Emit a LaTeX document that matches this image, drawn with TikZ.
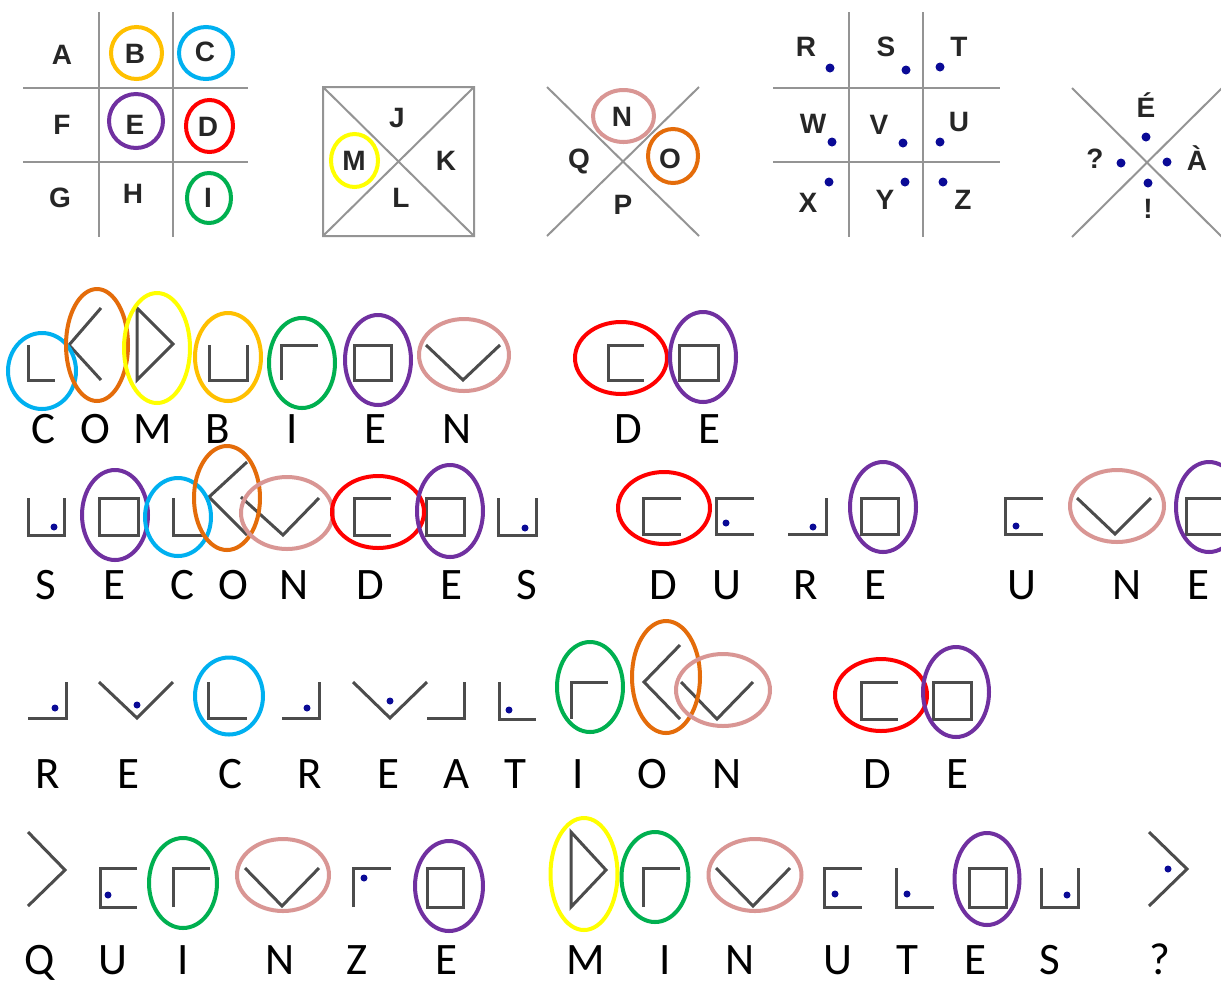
\documentclass[tikz,border=0pt]{standalone}
\usepackage{fontspec}
\setmainfont{Carlito}
\newfontfamily\keyfont{Liberation Sans}
\definecolor{cyanring}{RGB}{0,176,240}
\definecolor{orangering}{RGB}{228,108,10}
\definecolor{yellowring}{RGB}{255,255,0}
\definecolor{goldring}{RGB}{255,192,0}
\definecolor{greenring}{RGB}{0,176,80}
\definecolor{purplering}{RGB}{112,48,160}
\definecolor{pinkring}{RGB}{217,150,148}
\definecolor{redring}{RGB}{255,0,0}
\definecolor{dotblue}{RGB}{10,10,150}
\tikzset{
  grid/.style={draw=black!42, line width=1pt},
  sym/.style={draw=black!70, line width=1.5pt},
  ring/.style={line width=2pt},
  pt/.style={fill=dotblue},
  key/.style={font=\keyfont\bfseries\fontsize{14}{16}\selectfont, text=black!85, inner sep=0pt, anchor=base},
  word/.style={font=\fontsize{22.5}{27}\selectfont, inner sep=0pt, anchor=base},
}
\begin{document}
\begin{tikzpicture}[x=0.5pt,y=-0.5pt]
  \clip (0,0) rectangle (1221,987);
  \fill[white] (0,0) rectangle (1221,987);

  % key: grid 1
  \draw[grid] (99,12) -- (99,237) (173,12) -- (173,237)
              (23,88) -- (248,88) (23,162) -- (248,162);
  \foreach \n/\x/\y in {A/62/64,B/135/63,C/205/61,F/62/134,E/135/134,
                        D/208/136,G/60/207,H/133/203,I/208/207}
    \node[key] (k\n) at (\x,\y) {\n};
  \draw[ring,goldring]   (136.5,53) ellipse [x radius=25.5, y radius=26];
  \draw[ring,cyanring]   (206,53)   ellipse [x radius=27, y radius=26];
  \draw[ring,purplering] (136,121)  ellipse [x radius=27, y radius=27];
  \draw[ring,redring]    (209.5,126) ellipse [x radius=23.5, y radius=26];
  \draw[ring,greenring]  (209,198)  ellipse [x radius=22, y radius=25];

  % key: grid 2
  \draw[grid] (323,87) rectangle (474,236) (323,87) -- (474,236) (474,87) -- (323,236);
  \foreach \n/\x/\y in {J/397/127,K/446/170,L/401/207,M/354/170}
    \node[key] (k\n) at (\x,\y) {\n};
  \draw[ring,yellowring] (354.5,160.5) ellipse [x radius=23.5, y radius=26.5];

  % key: cross 3
  \draw[grid] (547,87) -- (699,236) (699,87) -- (547,236);
  \foreach \n/\x/\y in {N/622/126,O/670/168,P/623/214,Q/579/168}
    \node[key] (k\n) at (\x,\y) {\n};
  \draw[ring,pinkring]   (623.5,116) ellipse [x radius=30.5, y radius=26];
  \draw[ring,orangering] (673,156)   ellipse [x radius=25, y radius=27];

  % key: grid 4
  \draw[grid] (849,12) -- (849,237) (923,12) -- (923,237)
              (773,88) -- (1000,88) (773,162) -- (1000,162);
  \foreach \n/\x/\y in {R/806/56,S/886/56,T/959/56,W/813/133,V/879/134,
                        U/959/131,X/808/212,Y/885/209,Z/963/209}
    \node[key] (k\n) at (\x,\y) {\n};
  \foreach \x/\y in {830/68,906/70,940/67,832/142,903/143,940/142,829/182,905/182,943/182}
    \fill[pt] (\x,\y) circle [radius=4.5];

  % key: cross 5
  \draw[grid] (1072,88) -- (1222,237) (1222,88) -- (1072,237);
  \node[key] (kEacute) at (1146,117) {É};
  \node[key] (kAgrave) at (1197,170) {À};
  \node[key] (kquest)  at (1095,168) {?};
  \node[key] (kexcl)   at (1148,218) {!};
  \foreach \x/\y in {1146/137,1121/163,1167/162,1148/183}
    \fill[pt] (\x,\y) circle [radius=4.5];

  % row 1: COMBIEN DE
  \draw[sym] (28,345) -- (28,380) -- (55,380);
  \draw[sym] (101,308) -- (69,345) -- (101,380);
  \draw[sym] (137,308) -- (137,380) -- (173,344) -- cycle;
  \draw[sym] (209,345) -- (209,380) -- (247,380) -- (247,345);
  \draw[sym] (281,380) -- (281,345) -- (318,345);
  \draw[sym] (354,345) rectangle (391,380);
  \draw[sym] (426,345) -- (463,380) -- (500,345);
  \draw[sym] (644,345) -- (608,345) -- (608,380) -- (644,380);
  \draw[sym] (679,345) rectangle (718,380);
  \draw[ring,cyanring]   (42,371)  ellipse [x radius=34, y radius=38];
  \draw[ring,orangering] (97,345)  ellipse [x radius=31, y radius=56];
  \draw[ring,yellowring] (157,348) ellipse [x radius=33, y radius=55];
  \draw[ring,goldring]   (228,357) ellipse [x radius=33, y radius=44];
  \draw[ring,greenring]  (302,363) ellipse [x radius=33, y radius=45];
  \draw[ring,purplering] (378,360) ellipse [x radius=33, y radius=45];
  \draw[ring,pinkring]   (464,355) ellipse [x radius=45, y radius=36];
  \draw[ring,redring]    (621,358) ellipse [x radius=46, y radius=36];
  \draw[ring,purplering] (703,357) ellipse [x radius=33, y radius=45];
  \foreach \x/\l [count=\i] in {43/C,95/O,153/M,218/B,292/I,375/E,457/N,628/D,709/E}
    \node[word] (a\i) at (\x,443) {\l};

  % row 2: SECONDES DURE UNE
  \draw[sym] (28,498) -- (28,535) -- (64,535) -- (64,498);
  \draw[sym] (99,498) rectangle (138,535);
  \draw[sym] (173,498) -- (173,535) -- (206,535);
  \draw[sym] (247,462) -- (209,497) -- (247,535);
  \draw[sym] (241,497) -- (283,535) -- (319,498);
  \draw[sym] (391,498) -- (354,498) -- (354,535) -- (391,535);
  \draw[sym] (426,498) rectangle (464,535);
  \draw[sym] (498,498) -- (498,535) -- (536,535) -- (536,498);
  \draw[sym] (681,498) -- (643,498) -- (643,534) -- (681,534);
  \draw[sym] (754,498) -- (716,498) -- (716,534) -- (754,534);
  \draw[sym] (788,534) -- (826,534) -- (826,498);
  \draw[sym] (861,498) rectangle (898,534);
  \draw[sym] (1043,498) -- (1005,498) -- (1005,534) -- (1043,534);
  \draw[sym] (1077,498) -- (1115,534) -- (1151,498);
  \draw[sym] (1186,498) rectangle (1224,534);
  \foreach \x/\y in {54/527,525/528,726/523,813/527,1016/526}
    \fill[pt] (\x,\y) circle [radius=3.5];
  \draw[ring,purplering] (115,515)  ellipse [x radius=33, y radius=45];
  \draw[ring,cyanring]   (178,517)  ellipse [x radius=33, y radius=39];
  \draw[ring,orangering] (227,498)  ellipse [x radius=33, y radius=52];
  \draw[ring,pinkring]   (287,513)  ellipse [x radius=46, y radius=36];
  \draw[ring,redring]    (378,512)  ellipse [x radius=46, y radius=36];
  \draw[ring,purplering] (450,511)  ellipse [x radius=33, y radius=46];
  \draw[ring,redring]    (664,508)  ellipse [x radius=46, y radius=36];
  \draw[ring,purplering] (883,507)  ellipse [x radius=33, y radius=45];
  \draw[ring,pinkring]   (1117,506) ellipse [x radius=47, y radius=36];
  \draw[ring,purplering] (1209,507) ellipse [x radius=33, y radius=45];
  \foreach \x/\l [count=\i] in {46/S,114/E,182/C,233/O,294/N,370/D,451/E,527/S,
                                663/D,727/U,806/R,875/E,1022/U,1127/N,1198/E}
    \node[word] (b\i) at (\x,599) {\l};

  % row 3: RECREATION DE
  \draw[sym] (28,718) -- (66,718) -- (66,682);
  \draw[sym] (99,682) -- (137,718) -- (173,682);
  \draw[sym] (208,682) -- (208,718) -- (247,718);
  \draw[sym] (282,718) -- (319,718) -- (319,682);
  \draw[sym] (353,682) -- (390,718) -- (427,682);
  \draw[sym] (427,718) -- (464,718) -- (464,682);
  \draw[sym] (499,682) -- (499,719) -- (536,719);
  \draw[sym] (571,719) -- (571,682) -- (608,682);
  \draw[sym] (680,645) -- (644,682) -- (680,719);
  \draw[sym] (681,682) -- (717,719) -- (753,682);
  \draw[sym] (898,682) -- (861,682) -- (861,719) -- (898,719);
  \draw[sym] (933,682) rectangle (971,719);
  \foreach \x/\y in {55/708,137/705,307/708,390/701,509/710}
    \fill[pt] (\x,\y) circle [radius=3.5];
  \draw[ring,cyanring]   (229,696) ellipse [x radius=34, y radius=38.5];
  \draw[ring,greenring]  (590,687) ellipse [x radius=33, y radius=45];
  \draw[ring,orangering] (666,677) ellipse [x radius=34, y radius=56];
  \draw[ring,pinkring]   (723,690) ellipse [x radius=47, y radius=36];
  \draw[ring,redring]    (881,695) ellipse [x radius=46, y radius=36];
  \draw[ring,purplering] (956,692) ellipse [x radius=33, y radius=45];
  \foreach \x/\l [count=\i] in {48/R,128/E,230/C,310/R,388/E,457/A,515/T,578/I,
                                652/O,727/N,877/D,957/E}
    \node[word] (c\i) at (\x,788) {\l};

  % row 4: QUINZE MINUTES ?
  \draw[sym] (28,832) -- (65,870) -- (28,906);
  \draw[sym] (137,868) -- (100,868) -- (100,907) -- (137,907);
  \draw[sym] (173,907) -- (173,868) -- (210,868);
  \draw[sym] (245,868) -- (282,906) -- (319,868);
  \draw[sym] (353,907) -- (353,868) -- (391,868);
  \draw[sym] (427,868) rectangle (463,907);
  \draw[sym] (571,832) -- (571,907) -- (606,870) -- cycle;
  \draw[sym] (643,907) -- (643,868) -- (680,868);
  \draw[sym] (716,868) -- (753,906) -- (790,868);
  \draw[sym] (862,868) -- (824,868) -- (824,907) -- (862,907);
  \draw[sym] (896,868) -- (896,907) -- (934,907);
  \draw[sym] (969,868) rectangle (1006,907);
  \draw[sym] (1041,868) -- (1041,907) -- (1078,907) -- (1078,868);
  \draw[sym] (1149,832) -- (1187,869) -- (1149,906);
  \foreach \x/\y in {108/895,364/878,835/894,907/894,1067/895,1168/869}
    \fill[pt] (\x,\y) circle [radius=3.5];
  \draw[ring,greenring]  (183,883) ellipse [x radius=34, y radius=45];
  \draw[ring,pinkring]   (283,875) ellipse [x radius=46, y radius=36];
  \draw[ring,purplering] (449,886) ellipse [x radius=34, y radius=45];
  \draw[ring,yellowring] (584,874) ellipse [x radius=33.5, y radius=56];
  \draw[ring,greenring]  (655,877) ellipse [x radius=33.5, y radius=45];
  \draw[ring,pinkring]   (755,875) ellipse [x radius=46.5, y radius=36];
  \draw[ring,purplering] (987,879) ellipse [x radius=32.5, y radius=46];
  \foreach \x/\l [count=\i] in {40/Q,113/U,183/I,280/N,357/Z,446/E,586/M,665/I,
                                740/N,838/U,907/T,975/E,1050/S,1160/?}
    \node[word] (d\i) at (\x,974) {\l};
\end{tikzpicture}
\end{document}
